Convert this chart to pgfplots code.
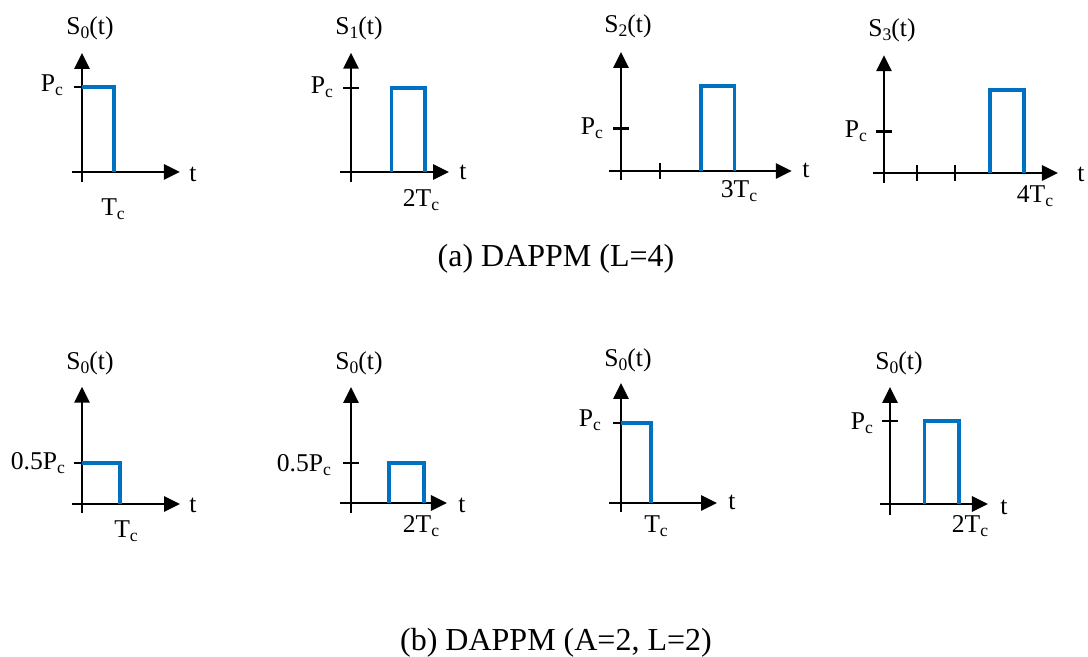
\documentclass[border=0pt]{standalone}
\usepackage{fontspec}
\setmainfont{Liberation Serif}
\usepackage{pgfplots}
\pgfplotsset{compat=1.18}
\usetikzlibrary{arrows.meta}
\definecolor{pulseblue}{RGB}{0,112,192}
\newcommand{\sub}[1]{\raisebox{-1.9pt}{\fontsize{8.8}{10}\selectfont #1}}
\pgfplotsset{
  pan/.style={
    axis lines=middle,
    anchor=origin,
    enlargelimits=false,
    clip=false,
    axis line style={line width=1.4pt,-{Triangle[length=8pt,width=7.5pt]}},
    every inner x axis line/.append style={-{Triangle[length=8pt,width=7.5pt]}},
    every inner y axis line/.append style={-{Triangle[length=8pt,width=7.5pt]}},
    major tick length=8pt,
    tick align=center,
    tick style={line width=1.2pt,black},
    xticklabels={,,,},yticklabels={,,,},
    xlabel={},ylabel={},
  },
  pulse/.style={color=pulseblue,line width=1.6pt,mark=none,line join=miter,line cap=butt},
}
\begin{document}
\begin{tikzpicture}[font=\fontsize{12.8}{15}\selectfont]
\useasboundingbox (0pt,0pt) rectangle (544pt,328.5pt);

% ---------- (a) row ----------
\begin{axis}[pan,at={(41pt,242.5pt)},x=16pt,y=42.5pt,xmin=-0.31,xmax=3.06,ymin=-0.12,ymax=1.4,xtick=\empty,ytick={1}]
\addplot[pulse] coordinates {(0,1) (1,1) (1,0)};
\end{axis}
\node[anchor=base] at (45pt,311pt) {S\sub{0}(t)};
\node[anchor=base east] at (35pt,282.5pt) {P\sub{c}};
\node[anchor=base] at (56.5pt,220.5pt) {T\sub{c}};
\node[anchor=base] at (96.5pt,237.5pt) {t};

\begin{axis}[pan,at={(175.5pt,242.5pt)},x=18.5pt,y=42pt,xmin=-0.3,xmax=2.65,ymin=-0.12,ymax=1.42,xtick=\empty,ytick={1}]
\addplot[pulse] coordinates {(1.1,0) (1.1,1) (2,1) (2,0)};
\end{axis}
\node[anchor=base] at (179.5pt,311pt) {S\sub{1}(t)};
\node[anchor=base east] at (170pt,281.5pt) {P\sub{c}};
\node[anchor=base] at (210.5pt,225pt) {2T\sub{c}};
\node[anchor=base] at (231.5pt,238.5pt) {t};

\begin{axis}[pan,at={(310.5pt,243pt)},x=19.5pt,y=21.25pt,xmin=-0.31,xmax=4.38,ymin=-0.21,ymax=2.8,xtick={1},ytick={1}]
\addplot[pulse] coordinates {(2.05,0) (2.05,2) (2.9,2) (2.9,0)};
\end{axis}
\node[anchor=base] at (314pt,312pt) {S\sub{2}(t)};
\node[anchor=base east] at (305pt,261pt) {P\sub{c}};
\node[anchor=base] at (369.5pt,229.5pt) {3T\sub{c}};
\node[anchor=base] at (403pt,239.5pt) {t};

\begin{axis}[pan,at={(442pt,242pt)},x=17.5pt,y=20.75pt,xmin=-0.31,xmax=4.97,ymin=-0.24,ymax=2.84,xtick={0.94,2.03},ytick={1}]
\addplot[pulse] coordinates {(3.03,0) (3.03,2) (4,2) (4,0)};
\end{axis}
\node[anchor=base] at (446pt,310pt) {S\sub{3}(t)};
\node[anchor=base east] at (437pt,259.5pt) {P\sub{c}};
\node[anchor=base] at (517.5pt,227pt) {4T\sub{c}};
\node[anchor=base] at (540.5pt,237.5pt) {t};

\node[anchor=base,font=\fontsize{16}{19}\selectfont] at (278pt,195pt) {(a) DAPPM (L=4)};

% ---------- (b) row ----------
\begin{axis}[pan,at={(41pt,76.5pt)},x=19pt,y=41pt,xmin=-0.26,xmax=2.58,ymin=-0.11,ymax=1.43,xtick=\empty,ytick={0.5}]
\addplot[pulse] coordinates {(0,0.5) (1,0.5) (1,0)};
\end{axis}
\node[anchor=base] at (45pt,143.5pt) {S\sub{0}(t)};
\node[anchor=base east] at (36pt,93.5pt) {0.5P\sub{c}};
\node[anchor=base] at (63pt,59.5pt) {T\sub{c}};
\node[anchor=base] at (96.5pt,72pt) {t};

\begin{axis}[pan,at={(175.5pt,77pt)},x=18.25pt,y=40pt,xmin=-0.3,xmax=2.63,ymin=-0.125,ymax=1.45,xtick=\empty,ytick={0.5}]
\addplot[pulse] coordinates {(1.04,0) (1.04,0.5) (2,0.5) (2,0)};
\end{axis}
\node[anchor=base] at (179.5pt,143.5pt) {S\sub{0}(t)};
\node[anchor=base east] at (169pt,92.5pt) {0.5P\sub{c}};
\node[anchor=base] at (210.5pt,62pt) {2T\sub{c}};
\node[anchor=base] at (231pt,72pt) {t};

\begin{axis}[pan,at={(310.5pt,77pt)},x=15pt,y=40pt,xmin=-0.4,xmax=3.2,ymin=-0.11,ymax=1.5,xtick=\empty,ytick={1}]
\addplot[pulse] coordinates {(0,1) (1,1) (1,0)};
\end{axis}
\node[anchor=base] at (314pt,145pt) {S\sub{0}(t)};
\node[anchor=base east] at (304pt,115pt) {P\sub{c}};
\node[anchor=base] at (328pt,62pt) {T\sub{c}};
\node[anchor=base] at (366pt,73.5pt) {t};

\begin{axis}[pan,at={(445pt,76.5pt)},x=17.25pt,y=41.5pt,xmin=-0.29,xmax=2.84,ymin=-0.13,ymax=1.41,xtick=\empty,ytick={1}]
\addplot[pulse] coordinates {(1,0) (1,1) (2,1) (2,0)};
\end{axis}
\node[anchor=base] at (449.5pt,143.5pt) {S\sub{0}(t)};
\node[anchor=base east] at (440pt,113.5pt) {P\sub{c}};
\node[anchor=base] at (485pt,62pt) {2T\sub{c}};
\node[anchor=base] at (502pt,71pt) {t};

\node[anchor=base,font=\fontsize{16}{19}\selectfont] at (278pt,3pt) {(b) DAPPM (A=2, L=2)};
\end{tikzpicture}
\end{document}
